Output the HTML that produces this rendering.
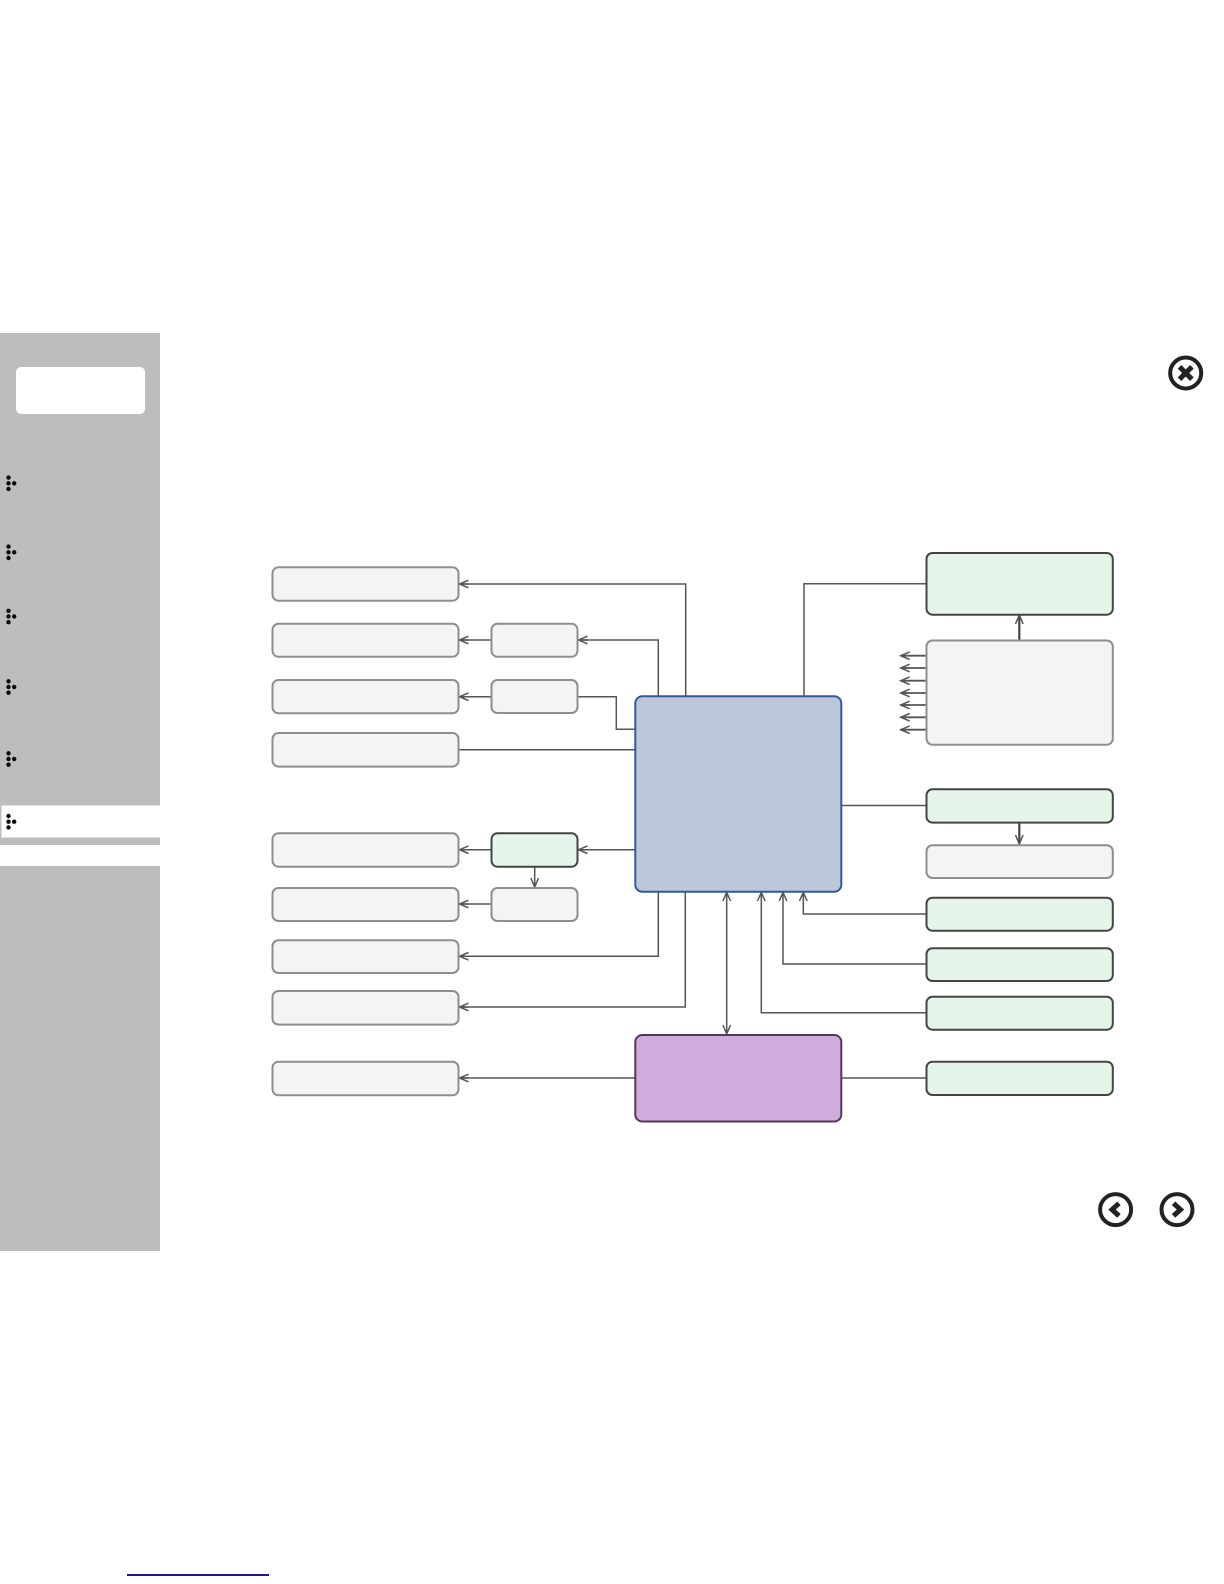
<!DOCTYPE html>
<html>
<head>
<meta charset="utf-8">
<title>Diagram</title>
<style>
html,body{margin:0;padding:0;background:#fff;width:1224px;height:1584px;overflow:hidden}
svg{display:block}
.g{fill:#f4f4f4;stroke:#8e8e8e;stroke-width:2}
.n{fill:#e6f5ea;stroke:#444;stroke-width:2}
.l{fill:none;stroke:#555;stroke-width:1.5}
.a{fill:none;stroke:#555;stroke-width:1.5}
.i{fill:none;stroke:#222;stroke-width:4}
.c{fill:none;stroke:#222;stroke-width:5;stroke-linecap:butt}
</style>
</head>
<body>
<svg width="1224" height="1584" viewBox="0 0 1224 1584" xmlns="http://www.w3.org/2000/svg">
<defs>
<g id="al"><path class="a" d="M9 -3.8L0 0L9 3.8M0 0H9"/></g>
<g id="dots" fill="#0a0a0a"><circle cx="8.5" cy="-5.7" r="2.2"/><circle cx="8.5" cy="0" r="2.2"/><circle cx="8.5" cy="5.7" r="2.2"/><circle cx="14.2" cy="0" r="2.2"/></g>
</defs>
<rect width="1224" height="1584" fill="#fff"/>

<!-- sidebar -->
<rect x="0" y="333" width="160" height="512" fill="#bdbdbd"/>
<rect x="0" y="866" width="160" height="385" fill="#bdbdbd"/>
<rect x="16" y="367" width="129" height="47" rx="5" fill="#fff"/>
<rect x="1.5" y="805.5" width="158.5" height="32" fill="#fff"/>
<use href="#dots" y="483.3"/>
<use href="#dots" y="552.3"/>
<use href="#dots" y="616.5"/>
<use href="#dots" y="687"/>
<use href="#dots" y="759"/>
<use href="#dots" y="821.7"/>

<!-- icons -->
<circle class="i" cx="1185.7" cy="373" r="15.5"/>
<path d="M1179.5 366.8L1191.9 379.2M1191.9 366.8L1179.5 379.2" fill="none" stroke="#222" stroke-width="5"/>
<circle class="i" cx="1115.6" cy="1209.6" r="15.5"/>
<path class="c" d="M1119 1203.3L1112 1209.6L1119 1215.9"/>
<circle class="i" cx="1177" cy="1209.6" r="15.5"/>
<path class="c" d="M1173.5 1203.3L1180.5 1209.6L1173.5 1215.9"/>

<!-- connectors -->
<path class="l" d="M459 584H685.7V696"/>
<path class="l" d="M578 640H658.3V696"/>
<path class="l" d="M459 640H491"/>
<path class="l" d="M459 696.7H491"/>
<path class="l" d="M578 696.7H616.3V729.3H635"/>
<path class="l" d="M459 749.7H635"/>
<path class="l" d="M459 849.7H491"/>
<path class="l" d="M578 849.7H635"/>
<path class="l" d="M534.7 867V887"/>
<path class="l" d="M459 904H491"/>
<path class="l" d="M658.3 892V956.3H459"/>
<path class="l" d="M685.3 892V1007H459"/>
<path class="l" d="M726.7 892V1034.3"/>
<path class="l" d="M761.3 892V1012.7H926"/>
<path class="l" d="M783 892V964H926"/>
<path class="l" d="M803.3 892V914H926"/>
<path class="l" d="M804 696V583.7H926"/>
<path class="l" d="M841 805.5H926"/>
<path class="l" d="M459 1078H635"/>
<path class="l" d="M841 1078H926"/>
<path d="M1019.3 640V615" fill="none" stroke="#444" stroke-width="2.2"/>
<path d="M1019.3 822.6V844" fill="none" stroke="#444" stroke-width="2.2"/>
<path d="M926 655.7H901M926 668H901M926 680.7H901M926 693H901M926 705H901M926 717.3H901M926 729.7H901" fill="none" stroke="#555" stroke-width="1.8"/>

<!-- arrowheads -->
<use href="#al" x="459.5" y="584"/>
<use href="#al" x="459.5" y="640"/>
<use href="#al" x="578.5" y="640"/>
<use href="#al" x="459.5" y="696.7"/>
<use href="#al" x="459.5" y="849.7"/>
<use href="#al" x="578.5" y="849.7"/>
<use href="#al" x="459.5" y="904"/>
<use href="#al" x="459.5" y="956.3"/>
<use href="#al" x="459.5" y="1007"/>
<use href="#al" x="459.5" y="1078"/>
<use href="#al" x="900.7" y="655.7"/>
<use href="#al" x="900.7" y="668"/>
<use href="#al" x="900.7" y="680.7"/>
<use href="#al" x="900.7" y="693"/>
<use href="#al" x="900.7" y="705"/>
<use href="#al" x="900.7" y="717.3"/>
<use href="#al" x="900.7" y="729.7"/>
<path class="a" d="M1015.5 624L1019.3 615L1023.1 624"/>
<path class="a" d="M1015.5 835L1019.3 844L1023.1 835"/>
<path class="a" d="M530.9 878L534.7 887L538.5 878"/>
<path class="a" d="M722.9 901L726.7 892.5L730.5 901"/>
<path class="a" d="M722.9 1025L726.7 1034L730.5 1025"/>
<path class="a" d="M757.5 901L761.3 892.5L765.1 901"/>
<path class="a" d="M779.2 901L783 892.5L786.8 901"/>
<path class="a" d="M799.5 901L803.3 892.5L807.1 901"/>

<!-- left boxes -->
<rect class="g" x="272.5" y="567.3" width="186" height="33.4" rx="6"/>
<rect class="g" x="272.5" y="623.8" width="186" height="33" rx="6"/>
<rect class="g" x="272.5" y="680" width="186" height="33.3" rx="6"/>
<rect class="g" x="272.5" y="733" width="186" height="33.6" rx="6"/>
<rect class="g" x="272.5" y="833.3" width="186" height="33.4" rx="6"/>
<rect class="g" x="272.5" y="888" width="186" height="33" rx="6"/>
<rect class="g" x="272.5" y="940.2" width="186" height="32.8" rx="6"/>
<rect class="g" x="272.5" y="991" width="186" height="33.6" rx="6"/>
<rect class="g" x="272.5" y="1061.7" width="186" height="33.6" rx="6"/>

<!-- middle boxes -->
<rect class="g" x="491.5" y="623.8" width="86" height="33" rx="6"/>
<rect class="g" x="491.5" y="680" width="86" height="33" rx="6"/>
<rect class="n" x="491.5" y="833.3" width="86" height="33.4" rx="6" stroke-width="2.2"/>
<rect class="g" x="491.5" y="888" width="86" height="33" rx="6"/>

<!-- central boxes -->
<rect x="635.3" y="696.3" width="206" height="195.4" rx="7" fill="#bcc8da" stroke="#2f5a9e" stroke-width="2"/>
<rect x="635.3" y="1035" width="206" height="86.5" rx="7" fill="#d0acdc" stroke="#503a5a" stroke-width="2"/>

<!-- right boxes -->
<rect class="n" x="926.5" y="553" width="186.3" height="61.7" rx="6"/>
<rect class="g" x="926.5" y="640.5" width="186.3" height="104.2" rx="6"/>
<rect class="n" x="926.5" y="789.3" width="186.3" height="33.3" rx="6"/>
<rect class="g" x="926.5" y="845.2" width="186.3" height="32.8" rx="6"/>
<rect class="n" x="926.5" y="897.7" width="186.3" height="33" rx="6"/>
<rect class="n" x="926.5" y="948.2" width="186.3" height="32.8" rx="6"/>
<rect class="n" x="926.5" y="996.8" width="186.3" height="32.9" rx="6"/>
<rect class="n" x="926.5" y="1061.7" width="186.3" height="33.3" rx="6"/>

<!-- bottom rule -->
<rect x="127" y="1574" width="142" height="2" fill="#1a1a8c"/>
</svg>
</body>
</html>
